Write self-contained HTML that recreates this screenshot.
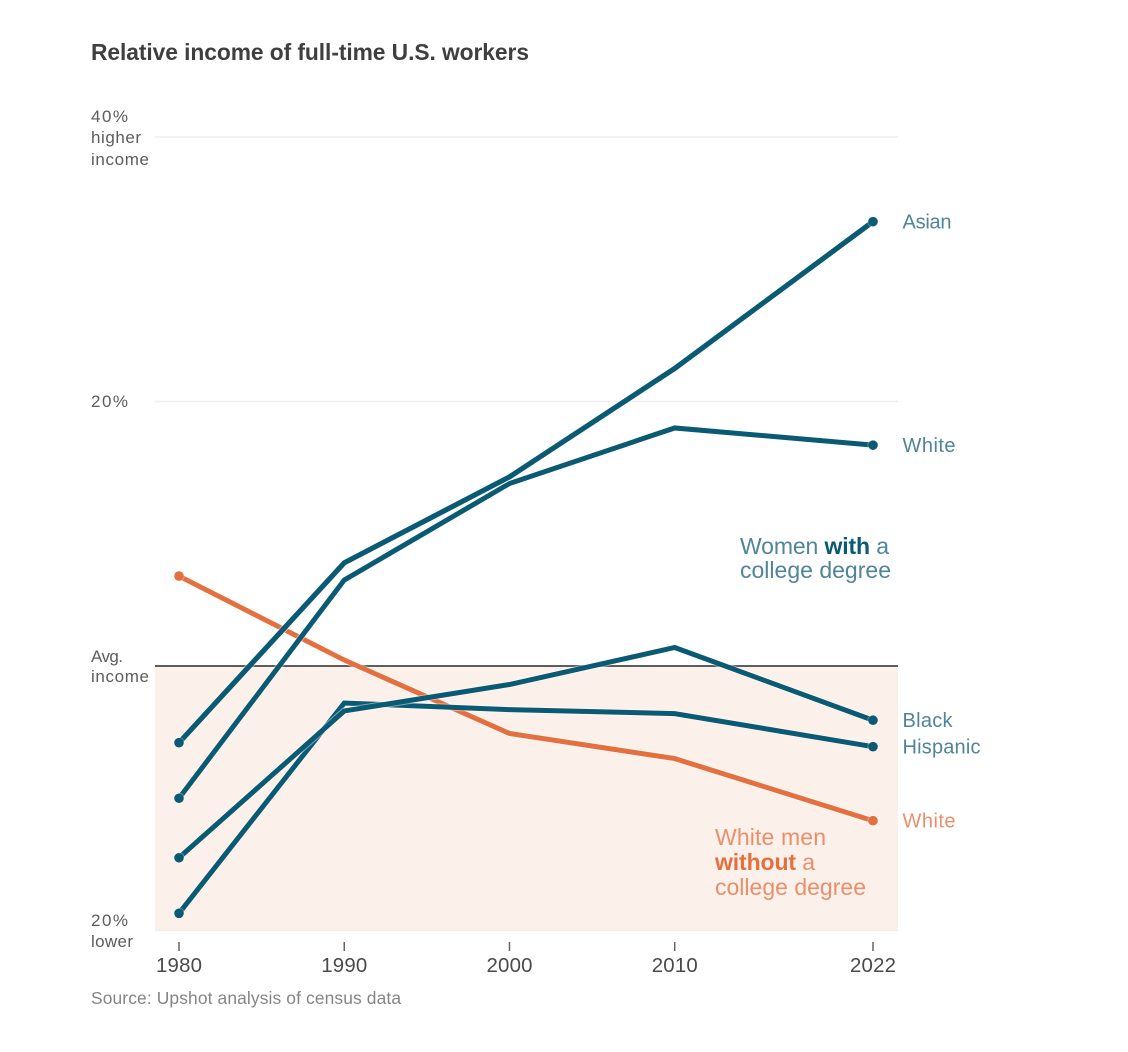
<!DOCTYPE html>
<html lang="en">
<head>
<meta charset="utf-8">
<title>Relative income of full-time U.S. workers</title>
<style>
html,body{margin:0;padding:0;background:#fff;width:1128px;height:1052px;overflow:hidden}
svg{display:block;font-family:"Liberation Sans",sans-serif}
</style>
</head>
<body>
<svg id="chart" width="1128" height="1052" viewBox="0 0 1128 1052">
  <text x="91" y="60" font-size="22.8" font-weight="700" fill="#3f3f3f" textLength="438">Relative income of full-time U.S. workers</text>
  <rect id="band" fill="#fcf0ea"></rect>
  <g id="grid"></g>
  <g id="xaxis"></g>
  <g id="series"></g>
  <g id="endlabels"></g>

  <g font-size="17" fill="#5c5c5c">
    <text x="91" y="122" textLength="37">40%</text>
    <text x="91" y="143" textLength="50">higher</text>
    <text x="91" y="165" textLength="58">income</text>
    <text x="91" y="407" textLength="37">20%</text>
    <text x="91" y="662" textLength="32">Avg.</text>
    <text x="91" y="682" textLength="58">income</text>
    <text x="91" y="926" textLength="37">20%</text>
    <text x="91" y="947" textLength="42">lower</text>
  </g>

  <g font-size="23" fill="#4f8499">
    <text x="740" y="554" textLength="149">Women <tspan font-weight="700" fill="#0b5a74">with</tspan> a</text>
    <text x="740" y="578" textLength="151">college degree</text>
  </g>
  <g font-size="23" fill="#e98f6c">
    <text x="715" y="845" textLength="111">White men</text>
    <text x="715" y="870" textLength="100"><tspan font-weight="700" fill="#e5703f">without</tspan> a</text>
    <text x="715" y="895" textLength="151">college degree</text>
  </g>

  <text x="91" y="1004" font-size="17.4" fill="#858585" textLength="310">Source: Upshot analysis of census data</text>
</svg>
<script>
var years = [1980, 1990, 2000, 2010, 2022];
var yTicks = [40, 20, 0, -20];
var asianWomen = [-5.8, 7.8, 14.3, 22.5, 33.6];
var whiteWomen = [-10.0, 6.5, 13.8, 18.0, 16.7];
var blackWomen = [-14.5, -3.4, -1.4, 1.4, -4.1];
var hispanicWomen = [-18.7, -2.8, -3.3, -3.6, -6.1];
var whiteMen = [6.8, 0.45, -5.1, -7.0, -11.7];

var TEAL = '#0b5a74', ORANGE = '#e5703f';
var TEAL_TEXT = '#4f8499', ORANGE_TEXT = '#e98f6c';
var NS = 'http://www.w3.org/2000/svg';

function xScale(year) { return 179 + (year - 1980) * (694 / 42); }
function yScale(v) { return 666 - v * (529 / 40); }

function make(parent, tag, attrs) {
  var el = document.createElementNS(NS, tag);
  for (var k in attrs) el.setAttribute(k, attrs[k]);
  parent.appendChild(el);
  return el;
}

var band = document.getElementById('band');
band.setAttribute('x', 155);
band.setAttribute('y', yScale(0));
band.setAttribute('width', 743);
band.setAttribute('height', yScale(-20) - yScale(0));

var grid = document.getElementById('grid');
yTicks.forEach(function (t) {
  var line = make(grid, 'line', {
    x1: 155, x2: 898, y1: yScale(t), y2: yScale(t),
    stroke: t === 0 ? '#2a2a2a' : '#eeeeee',
    'stroke-width': 1.5
  });
  
  
});

var xaxis = document.getElementById('xaxis');
years.forEach(function (yr) {
  var tick = make(xaxis, 'line', {
    x1: xScale(yr), x2: xScale(yr), y1: 942, y2: 951, stroke: '#666', 'stroke-width': 1.5
  });
  
  
  var label = make(xaxis, 'text', {
    x: xScale(yr), y: 972, 'font-size': 20.4, fill: '#4a4a4a', 'text-anchor': 'middle', textLength: 46
  });
  label.textContent = yr;
  
  
});

var seriesGroup = document.getElementById('series');
function drawSeries(name, values, color, width) {
  var pts = values.map(function (v, i) { return xScale(years[i]) + ',' + yScale(v); }).join(' ');
  var halo = make(seriesGroup, 'polyline', {
    points: pts, fill: 'none', stroke: '#fff', 'stroke-opacity': 0.45, 'stroke-width': width + 2, 'stroke-linejoin': 'miter'
  });
  
  
  var line = make(seriesGroup, 'polyline', {
    points: pts, fill: 'none', stroke: color, 'stroke-width': width, 'stroke-linejoin': 'miter'
  });
  
  
  [0, values.length - 1].forEach(function (i) {
    make(seriesGroup, 'circle', { cx: xScale(years[i]), cy: yScale(values[i]), r: 5.6, fill: '#fff', 'fill-opacity': 0.35 });
    var dot = make(seriesGroup, 'circle', { cx: xScale(years[i]), cy: yScale(values[i]), r: 4.8, fill: color });
    
    
  });
}
drawSeries('white-men', whiteMen, ORANGE, 5);
drawSeries('hispanic-women', hispanicWomen, TEAL, 5);
drawSeries('black-women', blackWomen, TEAL, 5);
drawSeries('white-women', whiteWomen, TEAL, 5);
drawSeries('asian-women', asianWomen, TEAL, 5.2);

var endGroup = document.getElementById('endlabels');
function endLabel(name, text, values, color, len) {
  var t = make(endGroup, 'text', {
    x: 902.5, y: yScale(values[values.length - 1]) + 7, 'font-size': 20, fill: color, textLength: len
  });
  t.textContent = text;
  
  
}
endLabel('label-asian', 'Asian', asianWomen, TEAL_TEXT, 49);
endLabel('label-white-women', 'White', whiteWomen, TEAL_TEXT, 53);
endLabel('label-black', 'Black', blackWomen, TEAL_TEXT, 50);
endLabel('label-hispanic', 'Hispanic', hispanicWomen, TEAL_TEXT, 78);
endLabel('label-white-men', 'White', whiteMen, ORANGE_TEXT, 53);
</script>
</body>
</html>
